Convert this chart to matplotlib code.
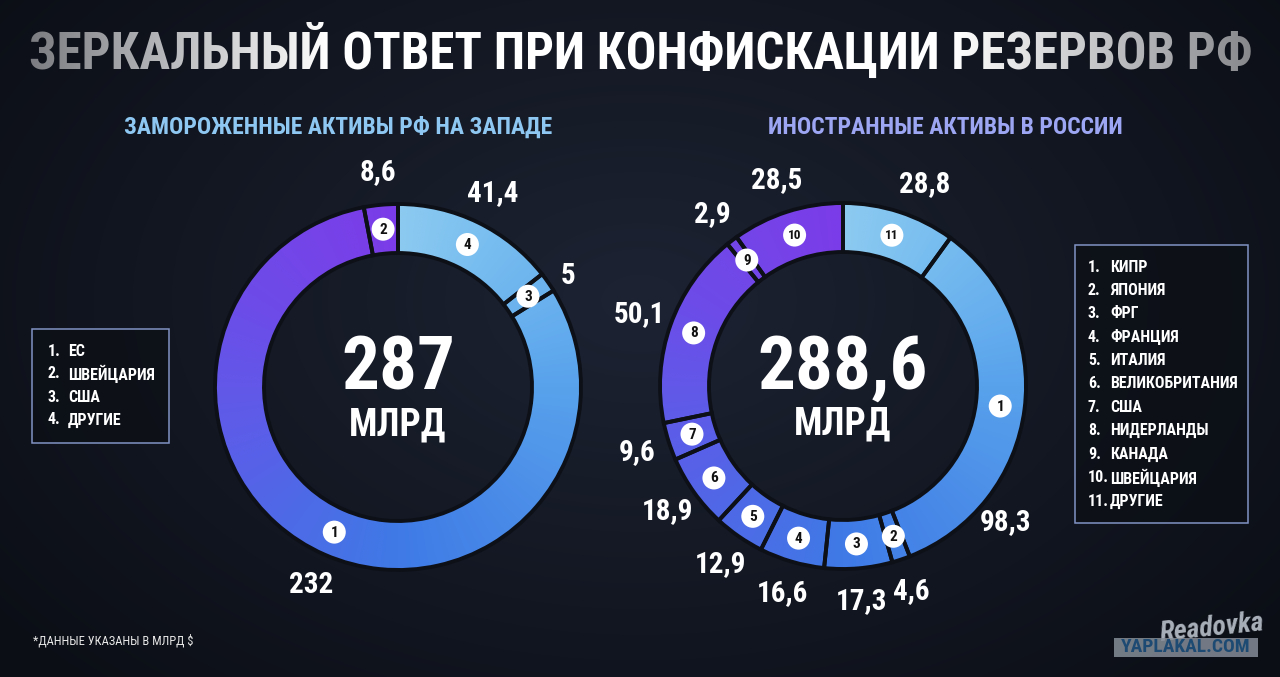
import numpy as np
import matplotlib
matplotlib.use("Agg")
import matplotlib.pyplot as plt
from matplotlib import font_manager
from matplotlib.colors import LinearSegmentedColormap, to_rgb
from matplotlib.patches import Rectangle, Circle

# ---- data ----
title = "ЗЕРКАЛЬНЫЙ ОТВЕТ ПРИ КОНФИСКАЦИИ РЕЗЕРВОВ РФ"
left_title = "ЗАМОРОЖЕННЫЕ АКТИВЫ РФ НА ЗАПАДЕ"
right_title = "ИНОСТРАННЫЕ АКТИВЫ В РОССИИ"
footnote = "*ДАННЫЕ УКАЗАНЫ В МЛРД $"
unit = "МЛРД"

left_names = ["ЕС", "ШВЕЙЦАРИЯ", "США", "ДРУГИЕ"]
left_values = [232, 8.6, 5, 41.4]
left_ring_order = [4, 3, 1, 2]          # clockwise from 12 o'clock
left_total = "287"

right_names = ["КИПР", "ЯПОНИЯ", "ФРГ", "ФРАНЦИЯ", "ИТАЛИЯ", "ВЕЛИКОБРИТАНИЯ",
               "США", "НИДЕРЛАНДЫ", "КАНАДА", "ШВЕЙЦАРИЯ", "ДРУГИЕ"]
right_values = [98.3, 4.6, 17.3, 16.6, 12.9, 18.9, 9.6, 50.1, 2.9, 28.5, 28.8]
right_ring_order = [11, 1, 2, 3, 4, 5, 6, 7, 8, 9, 10]
right_total = "288,6"

# ---- layout / style ----
W, H = 1280, 677
R_OUT, R_W = 183, 49
LABEL_R = 216
left_center = (398, 387)
right_center = (843, 386)
# moved labels: item -> (degrees clockwise from top, radius)
left_label_pos = {3: (57, 203)}
right_label_pos = {1: (130, 212), 11: (22, 218)}

GAP = "#0d1017"
ring_cmap = LinearSegmentedColormap.from_list("ring", [
    (0.00, "#8ccaf0"), (0.08, "#7abff0"), (0.17, "#68b0ee"), (0.25, "#58a2ec"),
    (0.375, "#4a8ce8"), (0.50, "#3f7ae6"), (0.58, "#4a6ee6"), (0.67, "#5662e8"),
    (0.75, "#6258e8"), (0.83, "#6c4ce8"), (0.92, "#7544e8"), (1.00, "#7b3ce8")])

names = {f.name for f in font_manager.fontManager.ttflist}
FONT = "DejaVu Sans"
for cand in ["Liberation Sans Narrow", "Roboto Condensed", "Open Sans Condensed", "DejaVu Sans"]:
    if cand in names:
        FONT = cand
        break
plt.rcParams["font.family"] = [FONT, "DejaVu Sans"]
plt.rcParams["font.stretch"] = "condensed"

fig = plt.figure(figsize=(W / 100, H / 100), dpi=100)
ax = fig.add_axes([0, 0, 1, 1])
ax.set_axis_off()

# background
yy, xx = np.mgrid[0:H, 0:W]
d = np.clip(np.sqrt(((xx - 640) / 820) ** 2 + ((yy - 300) / 540) ** 2), 0, 1)
c0, c1 = np.array(to_rgb("#1d2333")), np.array(to_rgb("#0b0e15"))
bg = c0 * (1 - d)[..., None] + c1 * d[..., None]
ax.imshow(bg, extent=(0, W, 0, H), origin="upper", zorder=0)


def fmt(v):
    return f"{v:g}".replace(".", ",")


def donut(values, order, center, total, label_pos):
    cx, cy = center[0], H - center[1]
    vals = [values[i - 1] for i in order]
    wedges, _ = ax.pie(vals, radius=R_OUT, center=(cx, cy), startangle=90,
                       counterclock=False,
                       wedgeprops=dict(width=R_W, facecolor="none", edgecolor=GAP,
                                       linewidth=2.8, zorder=3))
    n = 500
    X, Y = np.meshgrid(np.linspace(cx - R_OUT, cx + R_OUT, n),
                       np.linspace(cy - R_OUT, cy + R_OUT, n))
    ang = np.degrees(np.arctan2(X - cx, Y - cy)) % 360
    img = ring_cmap(ang / 360)
    r_mid = R_OUT - R_W / 2
    for num, v, w in zip(order, vals, wedges):
        im = ax.imshow(img, extent=(cx - R_OUT, cx + R_OUT, cy - R_OUT, cy + R_OUT),
                       origin="lower", zorder=2, interpolation="bilinear")
        im.set_clip_path(w)
        mid = np.radians((w.theta1 + w.theta2) / 2)
        bx, by = cx + r_mid * np.cos(mid), cy + r_mid * np.sin(mid)
        ax.add_patch(Circle((bx, by), 11.5, facecolor="white", edgecolor="none", zorder=4))
        ax.text(bx, by - 0.5, str(num), color="#111111", fontsize=11 if num < 10 else 9.5,
                fontweight="bold", ha="center", va="center", zorder=5)
        if num in label_pos:
            la, lr = np.radians(90 - label_pos[num][0]), label_pos[num][1]
        else:
            la, lr = mid, LABEL_R
        ax.text(cx + lr * np.cos(la), cy + lr * np.sin(la), fmt(v),
                color="white", fontsize=21, fontweight="bold", ha="center",
                va="center", zorder=5)
    ax.text(cx, cy + 17, total, color="white", fontsize=54, fontweight="bold",
            ha="center", va="center", zorder=5)
    ax.text(cx, cy - 38, unit, color="white", fontsize=27, fontweight="bold",
            ha="center", va="center", zorder=5)


donut(left_values, left_ring_order, left_center, left_total, left_label_pos)
donut(right_values, right_ring_order, right_center, right_total, right_label_pos)


def legend(items, x0, y0, x1, y1, first_row, step, num_x, name_x):
    ax.add_patch(Rectangle((x0, H - y1), x1 - x0, y1 - y0, facecolor="#0c0f15",
                           alpha=0.7, edgecolor="none", zorder=1))
    ax.add_patch(Rectangle((x0, H - y1), x1 - x0, y1 - y0, facecolor="none",
                           edgecolor="#8193c4", linewidth=1.1, zorder=2))
    for i, name in enumerate(items):
        y = H - (first_row + i * step)
        ax.text(num_x, y, f"{i + 1}.", color="white", fontsize=11.5,
                fontweight="bold", ha="left", va="center", zorder=5)
        ax.text(name_x, y, name, color="white", fontsize=11.5,
                fontweight="bold", ha="left", va="center", zorder=5)


legend(left_names, 32, 329, 169, 443, 351, 23, 48, 68)
legend(right_names, 1075, 245, 1248, 523, 267, 23.4, 1088, 1110)

# titles
renderer = fig.canvas.get_renderer()


def fit(t, width):
    bb = t.get_window_extent(renderer)
    if bb.width > width:
        t.set_fontsize(t.get_fontsize() * width / bb.width)


t = ax.text(641, H - 52, title, color="white", fontsize=46, fontweight="bold",
            ha="center", va="center", zorder=5)
fit(t, 1222)
t = ax.text(338, H - 127, left_title, color="#8ec8f2", fontsize=17,
            fontweight="bold", ha="center", va="center", zorder=5)
fit(t, 438)
t = ax.text(945, H - 127, right_title, color="#9ca6f2", fontsize=17,
            fontweight="bold", ha="center", va="center", zorder=5)
fit(t, 366)
t = ax.text(33, H - 641, footnote, color="#e6e6e6", fontsize=9, ha="left",
            va="center", zorder=5)
fit(t, 165)

# fade the title ends into the background
alpha = np.interp(np.arange(W), [0, 30, 330, 950, 1250, W], [0.55, 0.55, 0, 0, 0.5, 0.5])
over = np.dstack([bg[15:95], np.broadcast_to(alpha, (80, W))])
ax.imshow(over, extent=(0, W, H - 95, H - 15), origin="upper", zorder=6)

# watermark
ax.text(1212, H - 628, "Readovka", color="#aab0b9", fontsize=20, fontstyle="italic",
        fontweight="bold", ha="center", va="center", rotation=6, zorder=5)
ax.add_patch(Rectangle((1114, H - 657), 144, 19, facecolor="#858d98", alpha=0.85,
                       edgecolor="none", zorder=6))
ax.text(1186, H - 647.5, "YAPLAKAL.COM", color="#1d4a72", fontsize=14,
        fontweight="bold", ha="center", va="center", zorder=7)

ax.set_xlim(0, W)
ax.set_ylim(0, H)
ax.set_aspect("auto")
fig.savefig("out.png", dpi=100, facecolor="#0d1017")
